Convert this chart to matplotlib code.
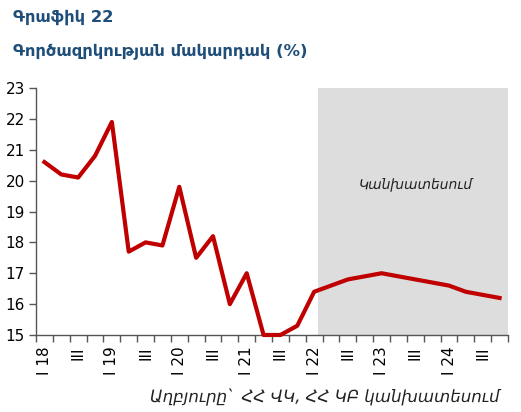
import numpy as np
import matplotlib.pyplot as plt

# Unemployment rate, quarterly 2018Q1 - 2024Q4 (%)
quarters = [f"{q} {y}" for y in range(18, 25) for q in ["I", "II", "III", "IV"]]
unemployment = [20.6, 20.2, 20.1, 20.8,
                21.9, 17.7, 18.0, 17.9,
                19.8, 17.5, 18.2, 16.0,
                17.0, 15.0, 15.0, 15.3,
                16.4, 16.6, 16.8, 16.9,
                17.0, 16.9, 16.8, 16.7,
                16.6, 16.4, 16.3, 16.2]
forecast_start = "I 22"

title_color = "#1F4E79"
line_color = "#C00000"

fig = plt.figure(figsize=(5.21, 4.12), dpi=100)
ax = fig.add_axes([36 / 521, 1 - 335 / 412, 472 / 521, 247 / 412])

x = np.arange(len(quarters))
i0 = quarters.index(forecast_start)
ax.axvspan(i0 + 0.2, len(quarters) - 0.5, color="#DDDDDD", lw=0, zorder=0)
ax.plot(x, unemployment, color=line_color, lw=3, solid_joinstyle="round",
        clip_on=False, zorder=3)

ax.text(i0 + 6.0, 19.9, "Կանխատեսում", style="italic", fontsize=10,
        ha="center", va="center", color="#222222")

ax.set_xlim(-0.5, len(quarters) - 0.5)
ax.set_ylim(15, 23)
ax.set_yticks(range(15, 24))
ax.tick_params(axis="y", labelsize=11, length=5, width=1, color="#555555", pad=3)

# category ticks at boundaries, labels every half year
ax.set_xticks(np.arange(-0.5, len(quarters)), minor=False)
ax.set_xticklabels([])
ax.tick_params(axis="x", length=5, width=1, color="#555555", direction="out")
lab_pos = [i for i, q in enumerate(quarters) if q.split()[0] in ("I", "III")]
lab_txt = [quarters[i] if quarters[i].startswith("I ") else "III" for i in lab_pos]
ax.set_xticks(lab_pos, minor=True)
ax.set_xticklabels(lab_txt, minor=True, rotation=90, fontsize=11)
ax.tick_params(axis="x", which="minor", length=0, pad=8)

for s in ["top", "right"]:
    ax.spines[s].set_visible(False)
for s in ["left", "bottom"]:
    ax.spines[s].set_color("#555555")
    ax.spines[s].set_linewidth(1)

fig.text(13 / 521, 1 - 17 / 412, "Գրաֆիկ 22", fontsize=11.8, fontweight="bold",
         color=title_color, va="center")
fig.text(13 / 521, 1 - 52 / 412, "Գործազրկության մակարդակ (%)", fontsize=11.8,
         fontweight="bold", color=title_color, va="center")
fig.text(500 / 521, 1 - 397 / 412, "Աղբյուրը՝  ՀՀ ՎԿ, ՀՀ ԿԲ կանխատեսում",
         fontsize=12, style="italic", ha="right", va="center", color="#222222")

fig.savefig("out.png", dpi=100)
